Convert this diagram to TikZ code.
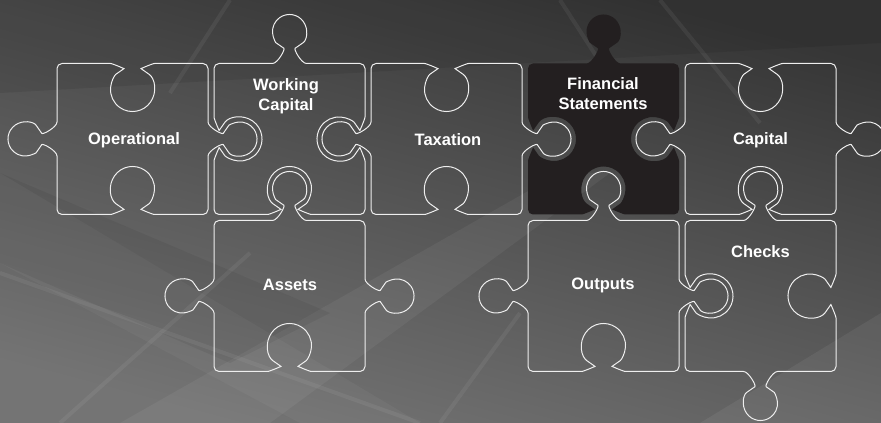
\documentclass[tikz,border=0pt]{standalone}
\usepackage{fontspec}
\setmainfont{Liberation Sans}
\usepackage{tikz}
\usepackage{xcolor}
\usetikzlibrary{positioning}
\definecolor{bgdark}{RGB}{54, 54, 54}
\definecolor{bglight}{RGB}{116, 116, 116}
\definecolor{piecedark}{RGB}{35, 31, 32}
\definecolor{pieceline}{RGB}{238, 238, 238}

% one side of a piece, drawn along +x from (-75.5,0) to (75.5,0), outside is -y
\newcommand{\pzTab}{-- (-22,0) .. controls (-12,0) and (-4,-14.1) .. (-9.75,-18.1) arc[start angle=125, end angle=415, radius=17] .. controls (4,-14.1) and (12,0) .. (22,0) -- (75.5,0)}
\newcommand{\pzHole}{-- (-27,0) .. controls (-20,0) and (-8.5,5.1) .. (-12.6,8) arc[start angle=235, end angle=-55, radius=22] .. controls (8.5,5.1) and (20,0) .. (27,0) -- (75.5,0)}
% centre x, centre y, then bottom, right, top, left side
\newcommand{\pzPiece}[6]{(#1-50,#2-75.5) {[shift={(#1,#2-75.5)}] #3} {[shift={(#1+75.5,#2)}, rotate=90] #4} {[shift={(#1,#2+75.5)}, rotate=180] #5} {[shift={(#1-75.5,#2)}, rotate=270] #6} -- cycle}

\begin{document}
\begin{tikzpicture}[x=1pt, y=1pt,
  pzline/.style={draw=pieceline, line width=1pt, rounded corners=5pt},
  pzdark/.style={fill=piecedark, rounded corners=5pt},
  pzlabel/.style={text=white, font=\fontsize{16.5}{20}\selectfont\bfseries, align=center},
  streak/.style={white, opacity=0.06, line width=4pt}]
\useasboundingbox (0,0) rectangle (881,423);
\shade[top color=bgdark, bottom color=bglight, shading angle=-15] (0,0) rectangle (881,423);
\fill[white, opacity=0.05] (120,0) -- (560,250) -- (610,250) -- (270,0) -- cycle;
\fill[white, opacity=0.04] (0,160) -- (300,0) -- (420,0) -- (0,250) -- cycle;
\fill[white, opacity=0.06] (700,0) -- (881,110) -- (881,0) -- cycle;
\fill[black, opacity=0.08] (0,423) -- (881,423) -- (881,380) -- (0,330) -- cycle;
\fill[black, opacity=0.06] (0,250) -- (0,160) -- (230,60) -- (330,110) -- cycle;
\draw[streak] (0,150) -- (420,0);
\draw[streak] (60,0) -- (250,170);
\draw[streak] (440,0) -- (520,110);
\draw[streak] (660,423) -- (760,300);
\draw[streak] (230,423) -- (170,330);
\draw[streak] (560,423) -- (620,330);

\fill[pzdark] \pzPiece{603.5}{284}{\pzHole}{\pzHole}{\pzTab}{\pzHole};

\draw[pzline] \pzPiece{132.5}{284}{\pzHole}{\pzTab}{\pzHole}{\pzTab};
\draw[pzline] \pzPiece{289.5}{284}{\pzHole}{\pzHole}{\pzTab}{\pzHole};
\draw[pzline] \pzPiece{446.5}{284}{\pzHole}{\pzTab}{\pzHole}{\pzTab};
\draw[pzline] \pzPiece{760.5}{284}{\pzHole}{\pzTab}{\pzHole}{\pzTab};
\draw[pzline] \pzPiece{289.5}{127}{\pzHole}{\pzTab}{\pzTab}{\pzTab};
\draw[pzline] \pzPiece{603.5}{127}{\pzHole}{\pzTab}{\pzTab}{\pzTab};
\draw[pzline] \pzPiece{760.5}{127}{\pzTab}{\pzHole}{\pzTab}{\pzHole};

\node[pzlabel] (operational) at (134,283) {Operational};
\node[pzlabel] (workcap) at (286,327) {Working\\Capital};
\node[pzlabel] (taxation) at (448,283) {Taxation};
\node[pzlabel] (finstat) at (603,329) {Financial\\Statements};
\node[pzlabel] (capital) at (760.5,283) {Capital};
\node[pzlabel] (assets) at (290,138) {Assets};
\node[pzlabel] (outputs) at (603,138) {Outputs};
\node[pzlabel] (checks) at (760.5,171) {Checks};
\end{tikzpicture}
\end{document}
